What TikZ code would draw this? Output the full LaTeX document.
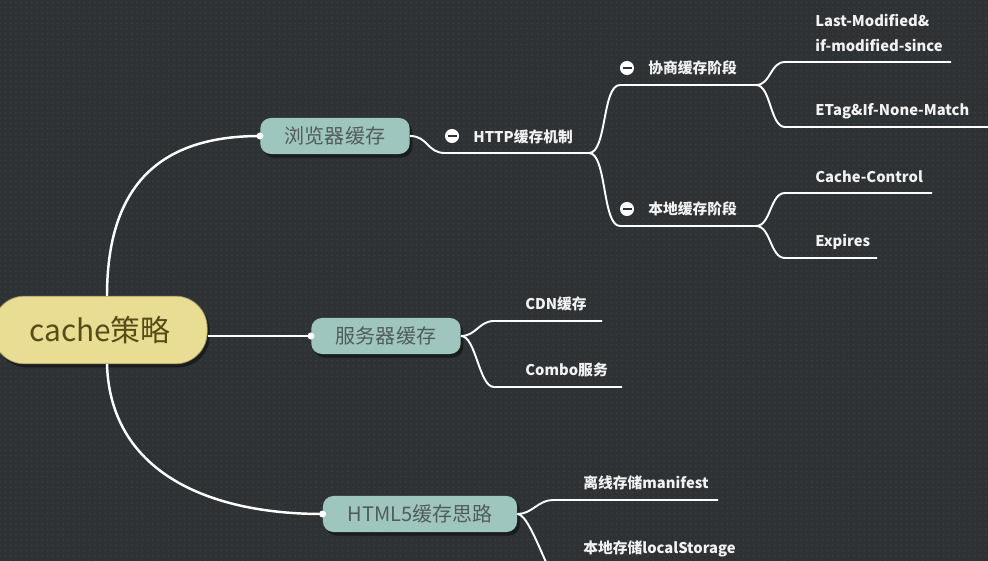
\documentclass[tikz,border=0pt]{standalone}
\usepackage{fontspec}
\setmainfont{Noto Sans CJK SC}
\usetikzlibrary{shadows,patterns}

\definecolor{bgdark}{HTML}{2E3235}
\definecolor{bgdot}{HTML}{3A3F42}
\definecolor{rootfill}{HTML}{E8DD92}
\definecolor{roottext}{HTML}{574C17}
\definecolor{topicfill}{HTML}{9EC5BE}
\definecolor{topictext}{HTML}{525C5A}
\definecolor{leaftext}{HTML}{F2F2F2}

\begin{document}
\begin{tikzpicture}[x=0.02cm, y=-0.02cm,
    rootnode/.style={fill=rootfill, draw=rootfill!70!black, line width=0.4pt,
      rounded corners=18pt, minimum width=122pt, minimum height=38.5pt,
      text=roottext, font=\fontsize{17}{20}\selectfont,
      drop shadow={shadow xshift=1.5pt, shadow yshift=-2pt, fill=black, opacity=0.45}},
    topic/.style={fill=topicfill, rounded corners=6pt, inner xsep=14pt,
      minimum height=20.5pt, text=topictext, font=\fontsize{11.4}{13}\selectfont,
      drop shadow={shadow xshift=1.5pt, shadow yshift=-2pt, fill=black, opacity=0.45}},
    leaf/.style={anchor=west, inner sep=0pt, text=leaftext,
      font=\fontsize{8.4}{14}\selectfont\bfseries},
    mainline/.style={white, line width=1.4pt},
    branch/.style={white, line width=1.1pt},
    enddot/.style={fill=white, draw=none},
  ]

  % Background
  \useasboundingbox (0,0) rectangle (988,561);
  \clip (0,0) rectangle (988,561);
  \fill[bgdark] (0,0) rectangle (988,561);
  \fill[pattern=dots, pattern color=bgdot] (0,0) rectangle (988,561);

  % Central topic and main topics
  \node[rootnode] (cache) at (100,330) {cache策略};
  \node[topic] (browser) at (335,136) {浏览器缓存};
  \node[topic] (server) at (386,336) {服务器缓存};
  \node[topic] (html5) at (420,514) {HTML5缓存思路};

  % Main connectors
  \coordinate (cacheTop) at (107,296);
  \coordinate (cacheBot) at (107,364);
  \draw[mainline] (cacheTop) .. controls (107,185) and (160,136) .. (browser.west);
  \draw[mainline] (cache.east |- server.west) -- (server.west);
  \draw[mainline] (cacheBot) .. controls (110,470) and (205,514) .. (html5.west);
  \foreach \t in {browser, server, html5}
    \fill[enddot] (\t.west) circle (2pt);

  % Forks and line ends
  \coordinate (httpS) at (445,153);
  \coordinate (httpF) at (589,153);
  \coordinate (negS) at (620,85);
  \coordinate (negF) at (756,85);
  \coordinate (locS) at (620,226);
  \coordinate (locF) at (756,226);
  \coordinate (lmS) at (785,62);
  \coordinate (lmE) at (951,62);
  \coordinate (etS) at (785,127);
  \coordinate (etE) at (990,127);
  \coordinate (ccS) at (785,193);
  \coordinate (ccE) at (932,193);
  \coordinate (exS) at (785,258);
  \coordinate (exE) at (877,258);
  \coordinate (cdnS) at (494,321);
  \coordinate (cdnE) at (602,321);
  \coordinate (cmbS) at (494,387);
  \coordinate (cmbE) at (622,387);
  \coordinate (mfS) at (553,500);
  \coordinate (mfE) at (718,500);
  \coordinate (lsS) at (570,600);

  % Browser branch
  \draw[branch] (browser.east) .. controls +(18,0) and +(-18,0) .. (httpS) -- (httpF);
  \draw[branch] (httpF) .. controls +(18,0) and +(-18,0) .. (negS) -- (negF);
  \draw[branch] (httpF) .. controls +(18,0) and +(-18,0) .. (locS) -- (locF);
  \draw[branch] (negF) .. controls +(15,0) and +(-15,0) .. (lmS) -- (lmE);
  \draw[branch] (negF) .. controls +(15,0) and +(-15,0) .. (etS) -- (etE);
  \draw[branch] (locF) .. controls +(15,0) and +(-15,0) .. (ccS) -- (ccE);
  \draw[branch] (locF) .. controls +(15,0) and +(-15,0) .. (exS) -- (exE);

  % Server branch
  \draw[branch] (server.east) .. controls +(15,0) and +(-15,0) .. (cdnS) -- (cdnE);
  \draw[branch] (server.east) .. controls +(15,0) and +(-15,0) .. (cmbS) -- (cmbE);

  % HTML5 branch
  \draw[branch] (html5.east) .. controls +(15,0) and +(-15,0) .. (mfS) -- (mfE);
  \draw[branch] (html5.east) .. controls +(15,0) and +(-15,0) .. (lsS);

  % Collapse icons
  \foreach \x/\y in {452/136, 627/68, 627/209} {
    \fill[white] (\x,\y) circle (4pt);
    \fill[bgdark] (\x-4.5,\y-1.2) rectangle (\x+4.5,\y+1.2);
  }

  % Labels
  \node[leaf] (http) at (473,137) {HTTP缓存机制};
  \node[leaf] (neg) at (648,68) {协商缓存阶段};
  \node[leaf] (loc) at (648,209) {本地缓存阶段};
  \node[leaf, align=left] (lm) at (815,33) {Last-Modified\&\\if-modified-since};
  \node[leaf] (etag) at (815,111) {ETag\&If-None-Match};
  \node[leaf] (cc) at (815,177) {Cache-Control};
  \node[leaf] (exp) at (815,242) {Expires};
  \node[leaf] (cdn) at (525,304) {CDN缓存};
  \node[leaf] (combo) at (525,370) {Combo服务};
  \node[leaf] (mf) at (583,483) {离线存储manifest};
  \node[leaf] (ls) at (583,549) {本地存储localStorage};

\end{tikzpicture}
\end{document}
